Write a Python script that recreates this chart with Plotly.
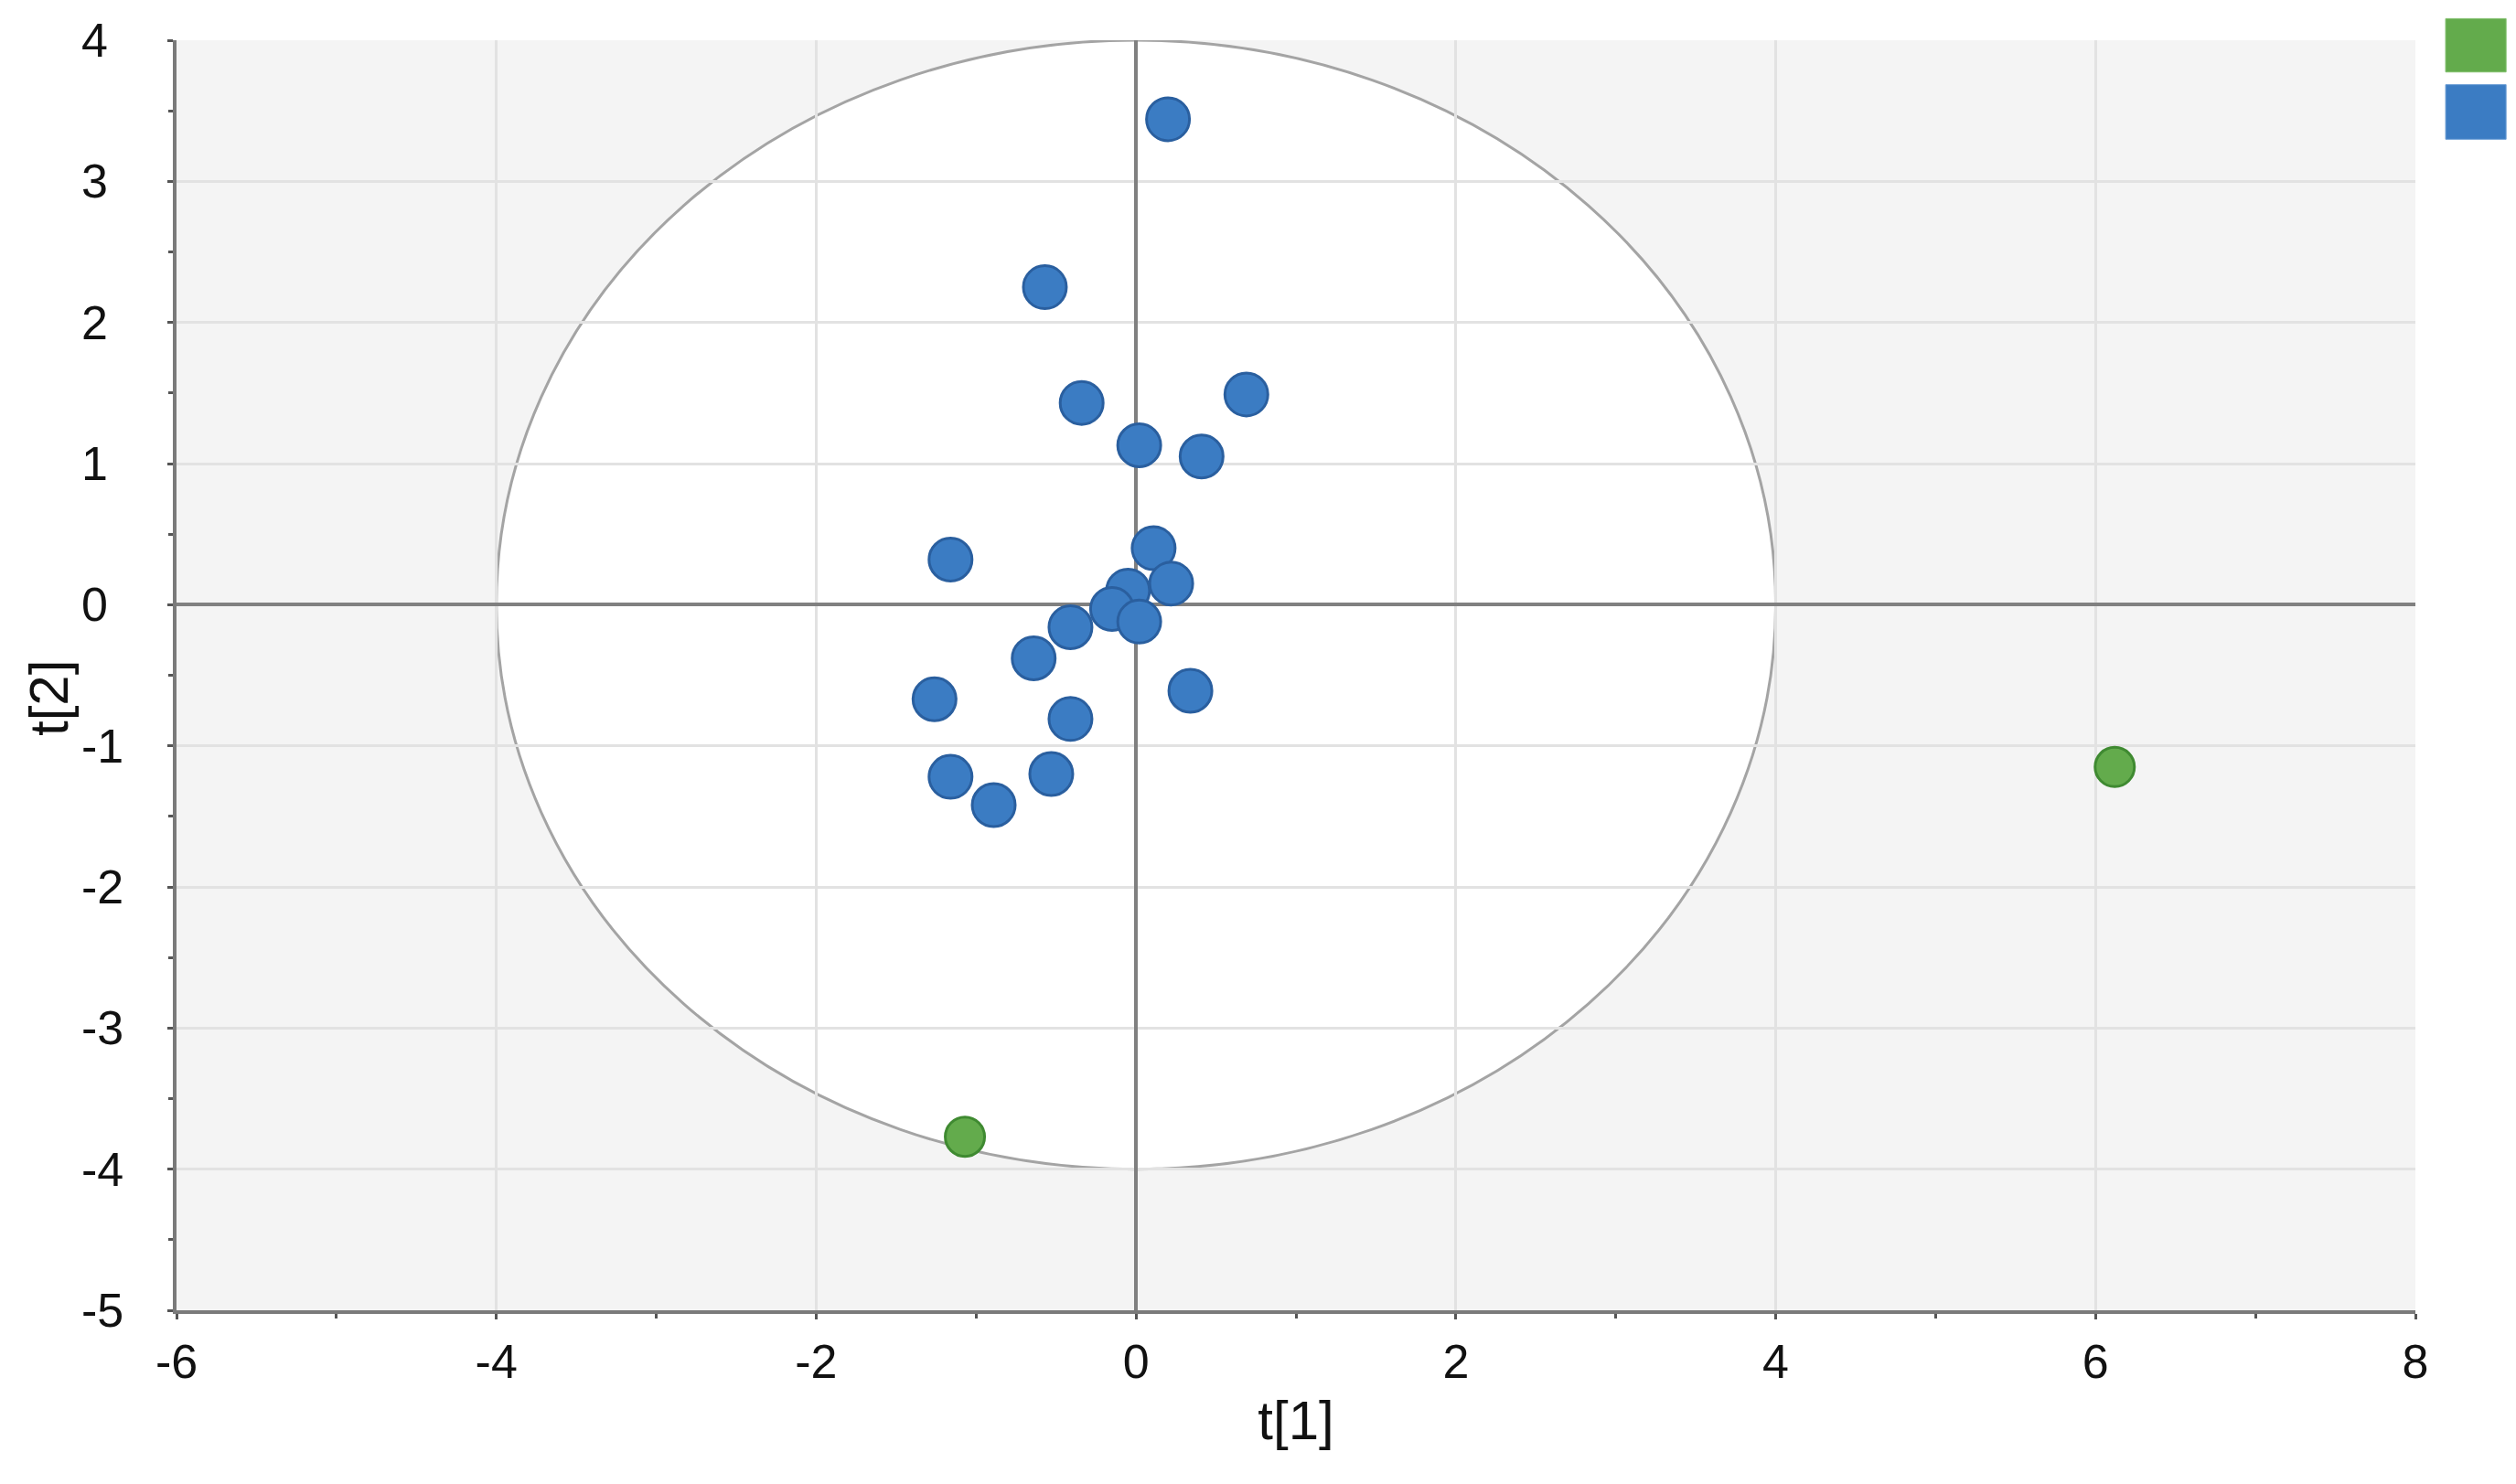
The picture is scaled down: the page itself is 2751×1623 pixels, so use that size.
import plotly.graph_objects as go

# Group A (blue) scores
blue_t1 = [0.20, -0.57, -0.34, 0.69, 0.02, 0.41, -1.16, 0.11, 0.22, -0.05,
           -0.15, 0.02, -0.41, -0.64, -1.26, -0.41, 0.34, -1.16, -0.53, -0.89]
blue_t2 = [3.44, 2.25, 1.43, 1.49, 1.13, 1.05, 0.32, 0.40, 0.15, 0.10,
           -0.03, -0.12, -0.16, -0.38, -0.67, -0.81, -0.61, -1.22, -1.20, -1.42]
# Group B (green) scores
green_t1 = [6.12, -1.07]
green_t2 = [-1.15, -3.77]

# Hotelling T2 ellipse semi-axes
ell_a = 4.0
ell_b = 4.0

x_ticks = [-6, -4, -2, 0, 2, 4, 6, 8]
y_ticks = [-5, -4, -3, -2, -1, 0, 1, 2, 3, 4]

BLUE = "#3b7cc3"
BLUE_EDGE = "#2a5f9f"
GREEN = "#63ab4c"
GREEN_EDGE = "#3f8a31"
FONT = "Liberation Sans, Arial, sans-serif"
TICK_SIZE = 52

fig = go.Figure()
fig.add_trace(go.Scatter(
    x=blue_t1, y=blue_t2, mode="markers", showlegend=False,
    marker=dict(size=47, color=BLUE, line=dict(color=BLUE_EDGE, width=3)),
))
fig.add_trace(go.Scatter(
    x=green_t1, y=green_t2, mode="markers", showlegend=False,
    marker=dict(size=43, color=GREEN, line=dict(color=GREEN_EDGE, width=3)),
))

fig.add_shape(type="circle", xref="x", yref="y",
              x0=-ell_a, x1=ell_a, y0=-ell_b, y1=ell_b,
              line=dict(color="#a4a4a4", width=3), fillcolor="white",
              layer="below")

# legend swatches (no labels in the original)
fig.add_shape(type="rect", xref="paper", yref="paper",
              x0=1.0135, x1=1.0405, y0=0.975, y1=1.017,
              fillcolor=GREEN, line=dict(color="#7fbf6a", width=1))
fig.add_shape(type="rect", xref="paper", yref="paper",
              x0=1.0135, x1=1.0405, y0=0.922, y1=0.965,
              fillcolor=BLUE, line=dict(color="#6e9fd6", width=1))

axis_common = dict(
    showline=True, linecolor="#7a7a7a", linewidth=4,
    showgrid=True, gridcolor="#e2e2e2", gridwidth=3,
    zeroline=True, zerolinecolor="#808080", zerolinewidth=4,
    ticks="outside", tickcolor="#555555", tickwidth=3, ticklen=6,
    tickfont=dict(family=FONT, size=TICK_SIZE, color="#111111"),
)

fig.update_xaxes(
    range=[-6, 8], tickvals=x_ticks, ticktext=[str(v) for v in x_ticks],
    ticklabelstandoff=2,
    minor=dict(dtick=1, ticks="outside", ticklen=5, tickcolor="#555555", tickwidth=3, showgrid=False),
    title=dict(text="t[1]", font=dict(family=FONT, size=60, color="#111111"), standoff=16),
    **axis_common,
)
fig.update_yaxes(
    range=[-5, 4], tickvals=y_ticks, showticklabels=False,
    minor=dict(dtick=0.5, ticks="outside", ticklen=5, tickcolor="#555555", tickwidth=3, showgrid=False),
    **axis_common,
)

# y tick labels, left-aligned as in the original
for v in y_ticks:
    fig.add_annotation(
        text=str(v), xref="paper", yref="y", x=-0.0435, y=v,
        showarrow=False, xanchor="left", yanchor="middle",
        font=dict(family=FONT, size=TICK_SIZE, color="#111111"),
    )

fig.add_annotation(
    text="t[2]", xref="paper", yref="paper", x=-0.057, y=0.482,
    textangle=-90, showarrow=False, xanchor="center", yanchor="middle",
    font=dict(family=FONT, size=60, color="#111111"),
)

fig.update_layout(
    width=2751, height=1623,
    margin=dict(l=185, r=118, t=36, b=198),
    plot_bgcolor="#f4f4f4", paper_bgcolor="white",
    showlegend=False,
)

fig.write_html("out.html")
